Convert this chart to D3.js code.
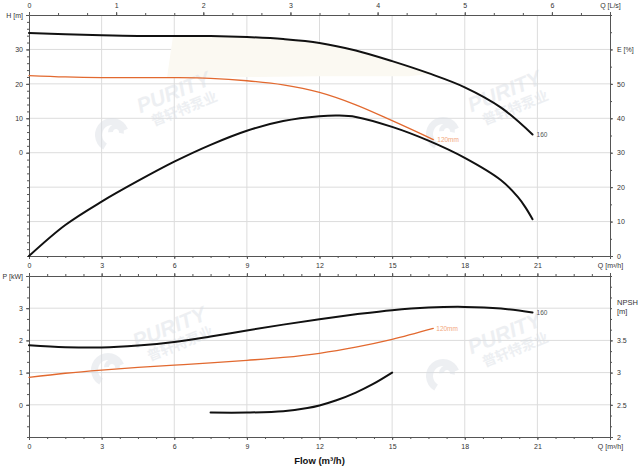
<!DOCTYPE html>
<html><head><meta charset="utf-8">
<script src="https://cdn.jsdelivr.net/npm/d3@7"></script>
<style>body{margin:0;background:#fff}svg{display:block;font-family:"Liberation Sans",Arial,sans-serif}</style>
</head><body><svg id="c" width="640" height="467"></svg>
<script>
// ---- tick labels ----
const flowTicks=[0,3,6,9,12,15,18,21,24];
const lpsTicks=[0,1,2,3,4,5,6,24/3.6];
const headTicks=[0,10,20,30,40];
const effTicks=[0,10,20,30,40,50,60];
const powerTicks=[0,1,2,3,4];
const npshTicks=[2,2.5,3,3.5];
// ---- series ----
const head160Q=[0,1.5,3,4.5,6,7.5,9,10.5,12,13.5,15,16.5,18,19.5,20.8];
const head160=[34.8,34.4,34.1,33.9,33.9,33.9,33.6,33.0,31.9,29.7,26.6,23.1,19.0,13.1,5.3];
const head120Q=[0,1.5,3,4.5,6,7.5,9,10.5,12,13.5,15,16,16.7];
const head120=[22.4,22.0,21.8,21.8,21.8,21.6,20.9,19.7,17.5,13.9,9.3,6.1,3.8];
const effQ=[0,1.5,3,4.5,6,7.5,9,10.5,12,12.8,13.5,15,16.5,18,19.5,20.2,20.5,20.8];
const eff160=[0,9.0,15.8,21.8,27.4,32.3,36.4,39.2,40.6,40.8,40.4,37.5,33.5,28.5,22.0,17.1,14.2,10.7];
const power160Q=[0,1.5,3,4.5,6,7.5,9,10.5,12,13.5,15,16.5,18,19.5,20.8];
const power160=[1.85,1.79,1.78,1.84,1.95,2.12,2.31,2.49,2.66,2.81,2.94,3.02,3.04,2.99,2.87];
const power120Q=[0,1.5,3,4.5,6,7.5,9,10.5,12,13.5,15,16.7];
const power120=[0.85,0.98,1.08,1.16,1.23,1.30,1.38,1.47,1.60,1.79,2.03,2.37];
const npshQ=[7.5,9,10.5,11.5,12,12.7,13.5,14.2,15];
const npsh=[2.38,2.38,2.40,2.45,2.49,2.57,2.69,2.82,3.0];
// operating range band (Q, H)
const bandUpperQ=[5.95,7.5,9,10.5,12,13.5,15,16.7];
const bandUpperH=[33.9,33.9,33.6,33.0,31.9,29.7,26.6,22.9];
const bandLowerQ=[15.7,12,9,5.7];
const bandLowerH=[22.2,22.2,22.0,21.8];

const svg=d3.select("#c");
const L=29,R=610,T1=15,B1=256,T2=276,B2=437;
const x=d3.scaleLinear([0,24],[L,R]);
const xl=d3.scaleLinear([0,24/3.6],[L,R]);
const yH=d3.scaleLinear([-30,40],[B1,T1]);
const yE=d3.scaleLinear([0,70],[B1,T1]);
const yP=d3.scaleLinear([-1,4],[B2,T2]);
const yN=d3.scaleLinear([2,4.5],[B2,T2]);
const BLACK="#111", ORANGE="#e2692f", GRID="#dcdcdc", AX="#555", TXT="#333";

// grid
const grid=svg.append("g").attr("stroke",GRID).attr("stroke-width",1);
flowTicks.filter(d=>d>0&&d<24).forEach(d=>{
  grid.append("line").attr("x1",x(d)).attr("x2",x(d)).attr("y1",T1).attr("y2",B1);
  grid.append("line").attr("x1",x(d)).attr("x2",x(d)).attr("y1",T2).attr("y2",B2);
});
[-20,-10,0,10,20,30].forEach(d=>grid.append("line").attr("x1",L).attr("x2",R).attr("y1",yH(d)).attr("y2",yH(d)));
[0,1,2,3].forEach(d=>grid.append("line").attr("x1",L).attr("x2",R).attr("y1",yP(d)).attr("y2",yP(d)));

// band
const bandPts=bandUpperQ.map((q,i)=>[x(q),yH(bandUpperH[i])]).concat(bandLowerQ.map((q,i)=>[x(q),yH(bandLowerH[i])]));
svg.append("path").attr("d",d3.line().curve(d3.curveLinearClosed)(bandPts)).attr("fill","#fbf9f2");

// watermark
function watermark(cx,cy){
  const g=svg.append("g").attr("transform",`translate(${cx},${cy})`).attr("opacity",0.45);
  g.append("path").attr("d",d3.arc()({innerRadius:10,outerRadius:17,startAngle:-2.6,endAngle:1.2}))
   .attr("transform","translate(-64,36)").attr("fill","#d8dde4");
  g.append("path").attr("d",d3.arc()({innerRadius:3,outerRadius:8,startAngle:-1.6,endAngle:1.8}))
   .attr("transform","translate(-60,33)").attr("fill","#d8dde4");
  const t=g.append("g").attr("transform","rotate(-22)");
  t.append("text").attr("text-anchor","middle").attr("font-size",21).attr("font-weight","bold").attr("font-style","italic")
   .attr("fill","#d8dde4").text("PURITY");
  t.append("text").attr("text-anchor","middle").attr("x",4).attr("y",17).attr("font-size",14).attr("font-weight","bold")
   .attr("font-family","'Noto Sans CJK SC',sans-serif").attr("fill","#d8dde4").text("普轩特泵业");
}
watermark(176,99);watermark(507,98);watermark(172,334);watermark(507,340);

// axes
function styleAxis(g){
  g.selectAll("path.domain").attr("stroke",AX);
  g.selectAll(".tick line").attr("stroke",AX);
  g.selectAll("text").attr("fill",TXT).attr("font-size",7).attr("font-family","'Liberation Sans',Arial,sans-serif");
}
function addAxis(gen,tx,ty){const g=svg.append("g").attr("transform",`translate(${tx},${ty})`).call(gen);styleAxis(g);return g;}
const fmtQ=d=>d===24?"Q [m³/h]":d;
// top chart
addAxis(d3.axisTop(xl).tickValues(d3.range(0,6.67,1/3)).tickSize(2).tickSizeOuter(0).tickFormat(""),0,T1);
addAxis(d3.axisTop(xl).tickValues(lpsTicks).tickSize(3).tickSizeOuter(0).tickPadding(4.5).tickFormat(d=>d>6.5?"Q [L/s]":d),0,T1);
addAxis(d3.axisBottom(x).tickValues(d3.range(0,24.01,0.75)).tickSize(2).tickSizeOuter(0).tickFormat(""),0,B1);
addAxis(d3.axisBottom(x).tickValues(flowTicks).tickSize(3).tickSizeOuter(0).tickPadding(4.5).tickFormat(fmtQ),0,B1);
addAxis(d3.axisLeft(yH).tickValues(d3.range(-30,40.01,2)).tickSize(2).tickSizeOuter(0).tickFormat(""),L,0);
addAxis(d3.axisLeft(yH).tickValues(headTicks).tickSize(3).tickSizeOuter(0).tickPadding(3).tickFormat(d=>d===40?"H [m]":d),L,0);
addAxis(d3.axisRight(yE).tickValues(d3.range(0,70.01,5)).tickSize(2).tickSizeOuter(0).tickFormat(""),R,0);
addAxis(d3.axisRight(yE).tickValues(effTicks).tickSize(3).tickSizeOuter(0).tickPadding(4).tickFormat(d=>d===60?"E [%]":d),R,0);
// bottom chart
addAxis(d3.axisTop(x).tickValues(d3.range(0,24.01,0.75)).tickSize(2).tickSizeOuter(0).tickFormat(""),0,T2);
addAxis(d3.axisTop(x).tickValues(flowTicks).tickSize(3).tickSizeOuter(0).tickFormat(""),0,T2);
addAxis(d3.axisBottom(x).tickValues(d3.range(0,24.01,0.75)).tickSize(2).tickSizeOuter(0).tickFormat(""),0,B2);
addAxis(d3.axisBottom(x).tickValues(flowTicks).tickSize(3).tickSizeOuter(0).tickPadding(4.5).tickFormat(fmtQ),0,B2);
addAxis(d3.axisLeft(yP).tickValues(d3.range(-1,4.01,1/3)).tickSize(2).tickSizeOuter(0).tickFormat(""),L,0);
addAxis(d3.axisLeft(yP).tickValues(powerTicks).tickSize(3).tickSizeOuter(0).tickPadding(3).tickFormat(d=>d===4?"P [kW]":d),L,0);
addAxis(d3.axisRight(yN).tickValues(d3.range(2,4.51,1/6)).tickSize(2).tickSizeOuter(0).tickFormat(""),R,0);
addAxis(d3.axisRight(yN).tickValues(npshTicks).tickSize(3).tickSizeOuter(0).tickPadding(4).tickFormat(d=>d),R,0);
const nl=svg.append("text").attr("x",R+7).attr("font-size",7.5).attr("fill",TXT);
nl.append("tspan").attr("x",R+7).attr("y",yN(4)-3).text("NPSH");
nl.append("tspan").attr("x",R+7).attr("y",yN(4)+6).text("[m]");

svg.append("text").attr("x",x(12)).attr("y",464).attr("text-anchor","middle").attr("font-size",9.5)
  .attr("font-weight","bold").attr("fill","#111").text("Flow (m³/h)");

// curves
function curve(qs,vs,ys,color,w){
  svg.append("path").datum(qs.map((q,i)=>[q,vs[i]]))
   .attr("d",d3.line().x(d=>x(d[0])).y(d=>ys(d[1])).curve(d3.curveCatmullRom.alpha(0.5)))
   .attr("fill","none").attr("stroke",color).attr("stroke-width",w).attr("stroke-linecap","round");
}
curve(head120Q,head120,yH,ORANGE,1.3);
curve(head160Q,head160,yH,BLACK,2);
curve(effQ,eff160,yE,BLACK,2);
curve(power120Q,power120,yP,ORANGE,1.3);
curve(power160Q,power160,yP,BLACK,2);
curve(npshQ,npsh,yN,BLACK,2);

// curve labels
function lab(q,v,ys,t,c,dx){svg.append("text").attr("x",x(q)+dx).attr("y",ys(v)+2.5).attr("font-size",6.5).attr("fill",c).text(t);}
lab(head160Q.at(-1),head160.at(-1),yH,"160","#555",4);
lab(power160Q.at(-1),power160.at(-1),yP,"160","#555",4);
lab(head120Q.at(-1),head120.at(-1),yH,"120mm","#f2a77e",4);
lab(power120Q.at(-1),power120.at(-1),yP,"120mm","#f2a77e",3);
</script></body></html>
